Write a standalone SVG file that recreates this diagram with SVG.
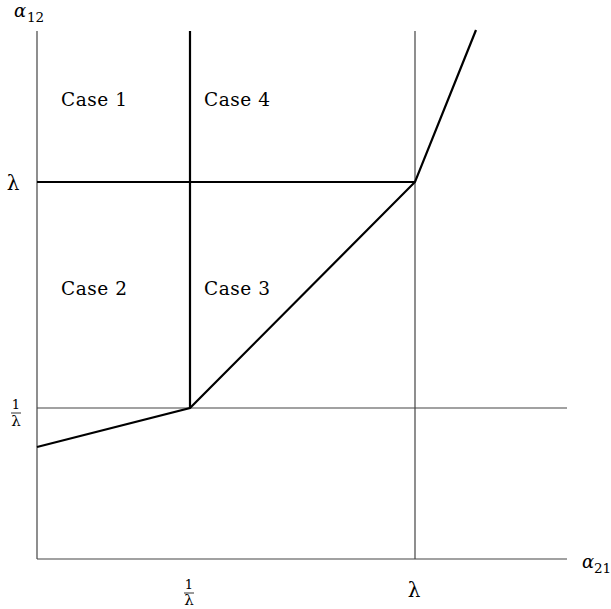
<svg xmlns="http://www.w3.org/2000/svg" width="611" height="609" viewBox="0 0 611 609">
<style>
.thin{stroke:#444;stroke-width:1.2;fill:none}
.thick{stroke:#000;stroke-width:2.2;fill:none;stroke-linejoin:miter}
.case{font-family:"DejaVu Serif",serif;font-size:18.5px;fill:#000}
.m{font-family:"DejaVu Serif",serif;font-style:italic;fill:#000}
.n{font-family:"DejaVu Serif",serif;fill:#000}
.l{font-family:"DejaVu Serif",serif;fill:#000}
</style>
<rect width="611" height="609" fill="#fff"/>
<g id="connectors">
<line class="thin" x1="37" y1="31" x2="37" y2="559"/>
<line class="thin" x1="37" y1="559" x2="567" y2="559"/>
<line class="thin" x1="415" y1="31" x2="415" y2="559"/>
<line class="thin" x1="37" y1="408" x2="567" y2="408"/>
<line class="thick" x1="37" y1="182" x2="415" y2="182"/>
<line class="thick" x1="190" y1="31" x2="190" y2="408"/>
<polyline class="thick" points="37,447 190,408 415,182 476,30"/>
</g>
<g id="case1"><text class="case" x="61" y="106" textLength="66">Case 1</text></g>
<g id="case4"><text class="case" x="204" y="106" textLength="66">Case 4</text></g>
<g id="case2"><text class="case" x="61" y="295" textLength="66">Case 2</text></g>
<g id="case3"><text class="case" x="204" y="295" textLength="66">Case 3</text></g>
<g id="ylabel"><text class="m" x="14" y="17" font-size="18">α</text><text class="n" x="27" y="22" font-size="13.5">12</text></g>
<g id="xlabel"><text class="m" x="582" y="568" font-size="18">α</text><text class="n" x="594" y="573" font-size="13.5">21</text></g>
<g id="ylambda"><text class="l" x="13" y="190" font-size="20" text-anchor="middle">λ</text></g>
<g id="yinv">
<text class="n" x="16" y="409" font-size="13" text-anchor="middle">1</text>
<line x1="11" y1="413" x2="21" y2="413" stroke="#000" stroke-width="0.8"/>
<text class="l" x="16" y="426" font-size="15" text-anchor="middle">λ</text>
</g>
<g id="xinv">
<text class="n" x="189" y="589" font-size="13" text-anchor="middle">1</text>
<line x1="184" y1="593" x2="194" y2="593" stroke="#000" stroke-width="0.8"/>
<text class="l" x="189" y="605" font-size="15" text-anchor="middle">λ</text>
</g>
<g id="xlambda"><text class="l" x="414" y="597" font-size="20" text-anchor="middle">λ</text></g>
</svg>
